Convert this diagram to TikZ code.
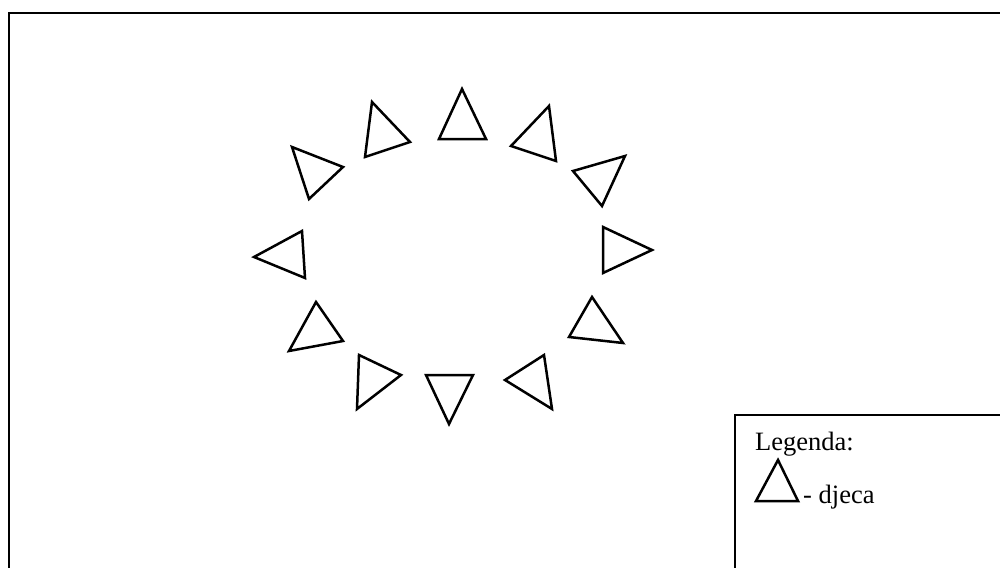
\documentclass[tikz,border=0pt]{standalone}
\usepackage{fontspec}
\setmainfont{Liberation Serif}
\usepackage{tikz}

\begin{document}
\begin{tikzpicture}[x=1pt,y=-1pt,line join=miter]
  \useasboundingbox (0,0) rectangle (1000,567);
  \clip (0,0) rectangle (1000,567);
  \fill[white] (0,0) rectangle (1000,567);
  % outer frame and legend box
  \draw[line width=2.8pt] (9,13) rectangle (1010,580);
  \draw[line width=2pt] (735,415) rectangle (1010,580);
  % children in a ring
  \foreach \ax/\ay/\bx/\by/\cx/\cy in {
      462/89/439/139/486/139,
      549/106/556/161/511/146,
      625/156/573/171/602/206,
      603/227/652/250/603/273,
      592/297/569/337/623/343,
      544/355/505/380/552/409,
      426/375/473/375/449/424,
      359/355/401/375/357/409,
      316/302/343/341/289/351,
      302/231/305/278/254/257,
      292/147/343/167/309/199,
      372/102/410/142/365/157}
    \draw[line width=2.5pt] (\ax,\ay) -- (\bx,\by) -- (\cx,\cy) -- cycle;
  % legend
  \node[anchor=base west,inner sep=0pt,font=\fontsize{26.5}{30}\selectfont] (legtitle) at (755,450) {Legenda:};
  \draw[line width=2.5pt] (778,460) -- (756,501) -- (798,501) -- cycle;
  \node[anchor=base west,inner sep=0pt,font=\fontsize{26.5}{30}\selectfont] (legtext) at (803,503) {- djeca};
\end{tikzpicture}
\end{document}
